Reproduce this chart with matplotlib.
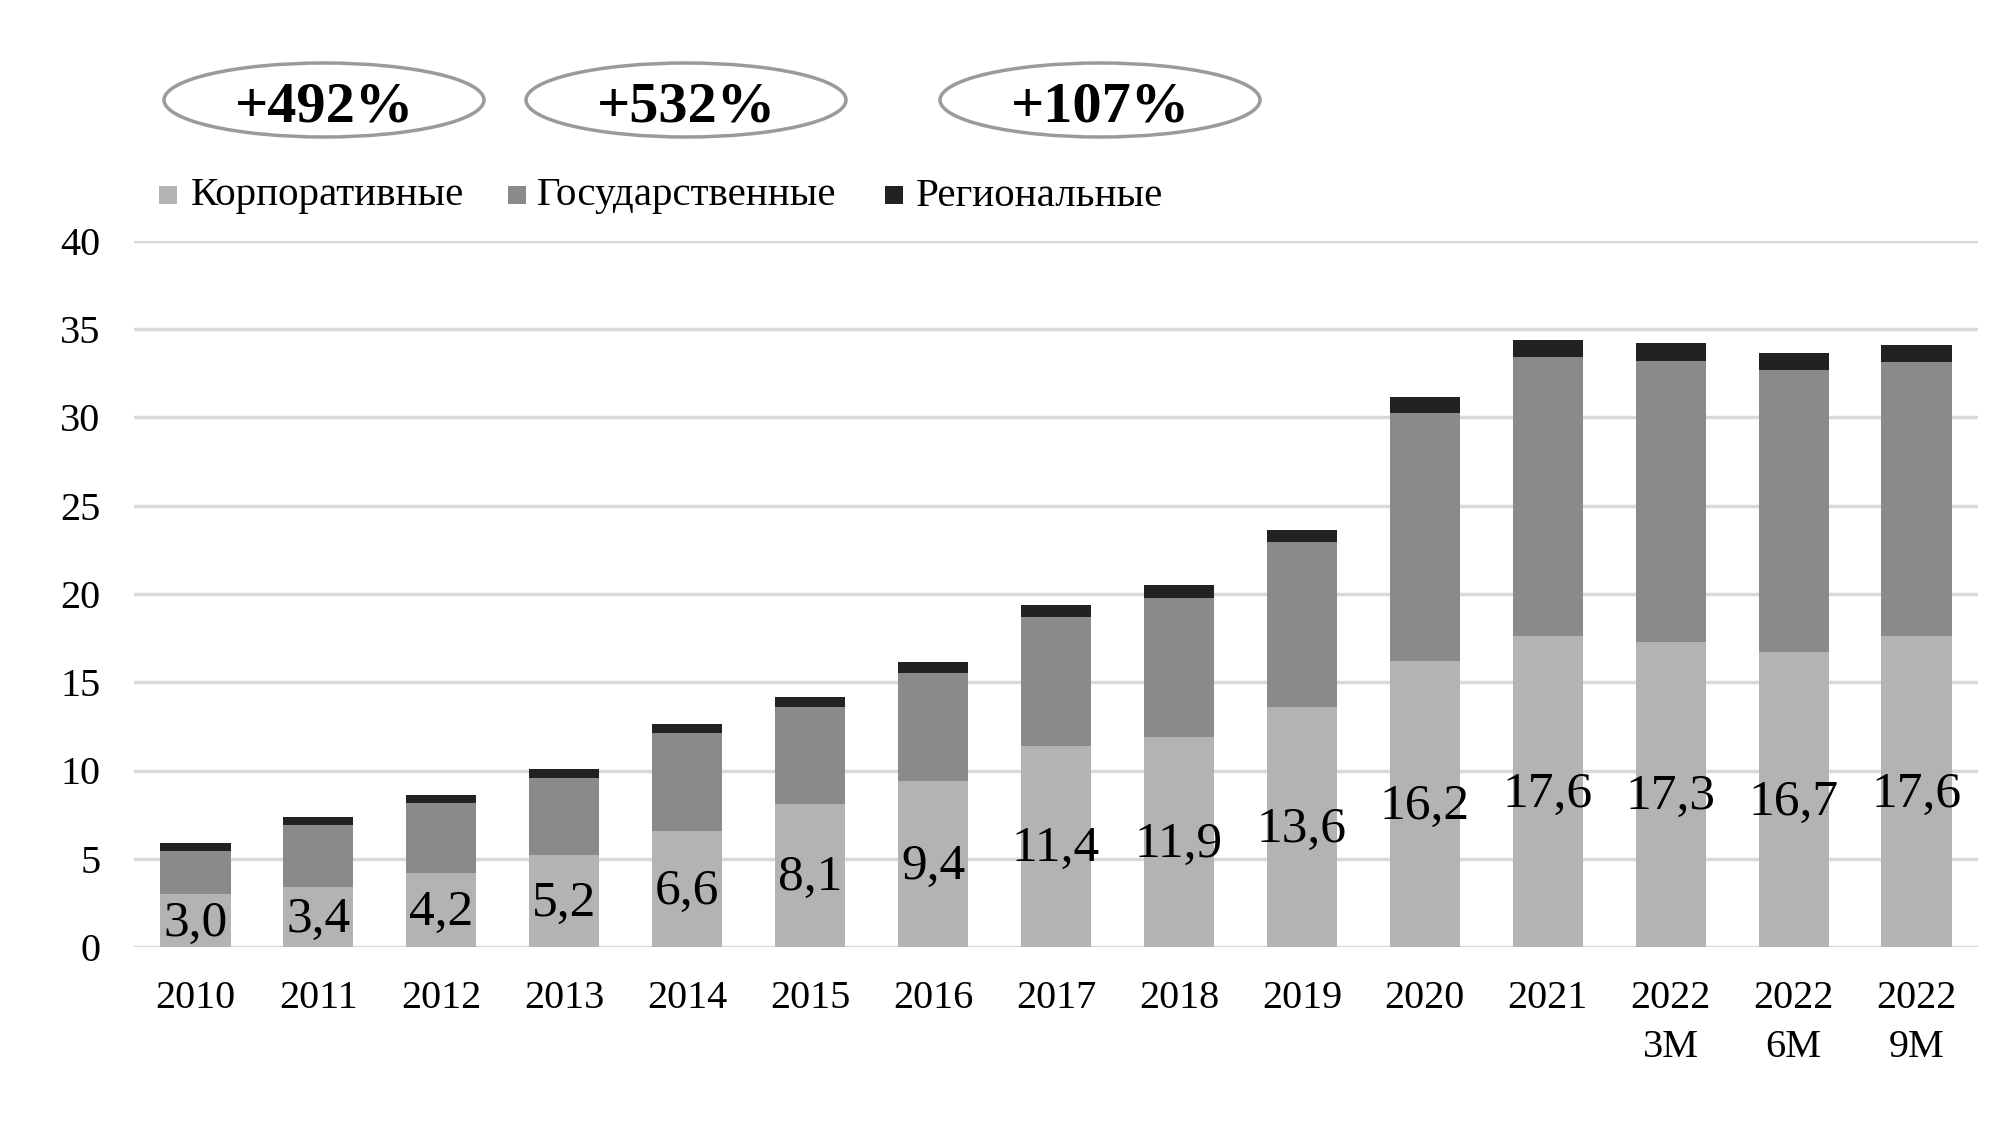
import matplotlib
matplotlib.use("Agg")
import matplotlib.pyplot as plt
from matplotlib.patches import Ellipse, Rectangle
import numpy as np

categories = ["2010", "2011", "2012", "2013", "2014", "2015", "2016", "2017",
              "2018", "2019", "2020", "2021", "2022\n3M", "2022\n6M", "2022\n9M"]
corporate = [3.0, 3.4, 4.2, 5.2, 6.6, 8.1, 9.4, 11.4, 11.9, 13.6, 16.2, 17.6, 17.3, 16.7, 17.6]
government = [2.45, 3.5, 3.95, 4.35, 5.5, 5.5, 6.1, 7.3, 7.9, 9.35, 14.05, 15.8, 15.9, 16.0, 15.55]
regional = [0.47, 0.45, 0.47, 0.52, 0.52, 0.55, 0.63, 0.68, 0.69, 0.69, 0.9, 1.0, 1.0, 0.97, 0.93]
corp_labels = ["3,0", "3,4", "4,2", "5,2", "6,6", "8,1", "9,4", "11,4", "11,9", "13,6",
               "16,2", "17,6", "17,3", "16,7", "17,6"]
series_names = ["Корпоративные", "Государственные", "Региональные"]
growth_labels = ["+492%", "+532%", "+107%"]

colors = ["#b3b3b3", "#8a8a8a", "#222222"]
serif = ["Liberation Serif", "DejaVu Serif"]

fig = plt.figure(figsize=(20.07, 11.25), dpi=100)
ax = fig.add_axes([134/2007, 1-947/1125, (1978-134)/2007, (947-241)/1125])

x = np.arange(len(categories))
w = 0.57
corp = np.array(corporate)
gov = np.array(government)
reg = np.array(regional)
ax.bar(x, corp, w, color=colors[0], zorder=3)
ax.bar(x, gov, w, bottom=corp, color=colors[1], zorder=3)
ax.bar(x, reg, w, bottom=corp + gov, color=colors[2], zorder=3)

for xi, v, lab in zip(x, corp, corp_labels):
    ax.text(xi, v / 2 - 0.15, lab, ha="center", va="center", fontsize=37,
            family=serif, color="black", zorder=4)

ax.set_xlim(-0.5, len(categories) - 0.5)
ax.set_ylim(0, 40)
ax.set_yticks(range(0, 41, 5))
ax.set_xticks(x)
ax.set_xticklabels(categories, family=serif, fontsize=29, linespacing=1.4)
ax.set_yticklabels([str(v) for v in range(0, 41, 5)], family=serif, fontsize=29)
ax.tick_params(axis="both", length=0)
ax.tick_params(axis="x", pad=24)
ax.tick_params(axis="y", pad=24)
for s in ax.spines.values():
    s.set_visible(False)
ax.yaxis.grid(True, color="#d9d9d9", linewidth=2.5, zorder=0)
ax.set_axisbelow(True)

# overlay in pixel coordinates for ellipses and legend
ov = fig.add_axes([0, 0, 1, 1], facecolor="none")
ov.set_xlim(0, 2007)
ov.set_ylim(1125, 0)
ov.axis("off")

ell_cx = [324, 686, 1100]
for cx, lab in zip(ell_cx, growth_labels):
    ov.add_patch(Ellipse((cx, 100), 320, 74, facecolor="white",
                         edgecolor="#9a9a9a", linewidth=2.5))
    ov.text(cx, 108, lab, ha="center", va="center", fontsize=42,
            fontweight="bold", family=serif)

leg_sq_x = [168, 517, 894]
leg_txt_x = [191, 537, 916]
for sx, tx, name, c in zip(leg_sq_x, leg_txt_x, series_names, colors):
    ov.add_patch(Rectangle((sx - 9, 186), 18, 18, facecolor=c, edgecolor="none"))
    ov.text(tx, 196, name, ha="left", va="center", fontsize=29.5, family=serif)

fig.savefig("out.png", dpi=100)
